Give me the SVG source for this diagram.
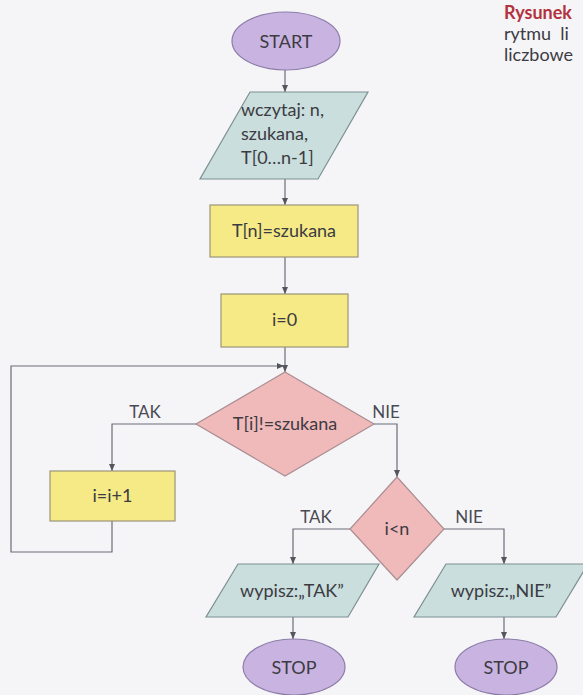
<svg xmlns="http://www.w3.org/2000/svg" width="583" height="695" viewBox="0 0 583 695">
<style>
.t{font-family:Lato,"Open Sans","Noto Sans",sans-serif;font-size:18px;fill:#3c3b42}
.c{text-anchor:middle}
.cap{font-family:Lato,"Open Sans","Noto Sans",sans-serif;font-size:18px;fill:#3c3b42}
.lbl{font-family:Lato,"Open Sans","Noto Sans",sans-serif;font-size:17px;fill:#4a4a52;text-anchor:middle}
.term{fill:#c9b3e1;stroke:#8c7ca8;stroke-width:1.2}
.io{fill:#c9dedd;stroke:#7d8f92;stroke-width:1.2}
.proc{fill:#f5ea86;stroke:#9c957a;stroke-width:1.2}
.dec{fill:#f0b9ba;stroke:#a98e92;stroke-width:1.2}
.ln{fill:none;stroke:#6c6c78;stroke-width:1.2}
</style>
<defs>
<marker id="ah" markerWidth="8" markerHeight="8" refX="7" refY="4" orient="auto" markerUnits="userSpaceOnUse">
<path d="M0,1 L7,4 L0,7 Z" fill="#55555f"/>
</marker>
</defs>
<rect width="583" height="695" fill="#f5f5f8"/>
<g id="caption">
<text class="cap" x="504" y="19" style="font-weight:bold;fill:#b3323d">Rysunek</text>
<text class="cap" x="504" y="40" xml:space="preserve">rytmu  li</text>
<text class="cap" x="504" y="61">liczbowe</text>
</g>
<g id="connectors">
<path class="ln" d="M285,70 V92" marker-end="url(#ah)"/>
<path class="ln" d="M285,179 V205" marker-end="url(#ah)"/>
<path class="ln" d="M285,257 V294" marker-end="url(#ah)"/>
<path class="ln" d="M285,347 V372" marker-end="url(#ah)"/>
<path class="ln" d="M112,521 V552 H11 V366 H284" marker-end="url(#ah)"/>
<path class="ln" d="M197,424 H112 V471" marker-end="url(#ah)"/>
<path class="ln" d="M373,424 H397 V477" marker-end="url(#ah)"/>
<path class="ln" d="M350,529 H293 V564" marker-end="url(#ah)"/>
<path class="ln" d="M444,529 H504 V564" marker-end="url(#ah)"/>
<path class="ln" d="M293,617 V639" marker-end="url(#ah)"/>
<path class="ln" d="M504,617 V639" marker-end="url(#ah)"/>
<text class="lbl" x="145" y="418">TAK</text>
<text class="lbl" x="386" y="418">NIE</text>
<text class="lbl" x="316" y="523">TAK</text>
<text class="lbl" x="469" y="523">NIE</text>
</g>
<g id="start">
<ellipse class="term" cx="286" cy="41" rx="54" ry="29"/>
<text class="t c" x="286" y="48">START</text>
</g>
<g id="read">
<polygon class="io" points="250,92 368,92 318,179 200,179"/>
<text class="t" x="241" y="116">wczytaj: n,</text>
<text class="t" x="241" y="140">szukana,</text>
<text class="t" x="241" y="164">T[0…n-1]</text>
</g>
<g id="tn">
<rect class="proc" x="210" y="205" width="148" height="52"/>
<text class="t c" x="284" y="237">T[n]=szukana</text>
</g>
<g id="i0">
<rect class="proc" x="221" y="294" width="127" height="53"/>
<text class="t c" x="284.5" y="326">i=0</text>
</g>
<g id="cond1">
<polygon class="dec" points="285,372 374,424 285,476 196,424"/>
<text class="t c" x="285" y="430">T[i]!=szukana</text>
</g>
<g id="inc">
<rect class="proc" x="50" y="471" width="125" height="50"/>
<text class="t c" x="112.5" y="502">i=i+1</text>
</g>
<g id="cond2">
<polygon class="dec" points="397,477 444,529 397,580 350,529"/>
<text class="t c" x="397" y="535">i&lt;n</text>
</g>
<g id="outTak">
<polygon class="io" points="238,564 379,564 348,617 206,617"/>
<text class="t c" x="292" y="597">wypisz:„TAK”</text>
</g>
<g id="outNie">
<polygon class="io" points="446,564 588,564 556,617 414,617"/>
<text class="t c" x="501" y="597">wypisz:„NIE”</text>
</g>
<g id="stopTak">
<ellipse class="term" cx="294" cy="667" rx="51" ry="28"/>
<text class="t c" x="294" y="674">STOP</text>
</g>
<g id="stopNie">
<ellipse class="term" cx="506" cy="667" rx="51" ry="28"/>
<text class="t c" x="506" y="674">STOP</text>
</g>
</svg>
